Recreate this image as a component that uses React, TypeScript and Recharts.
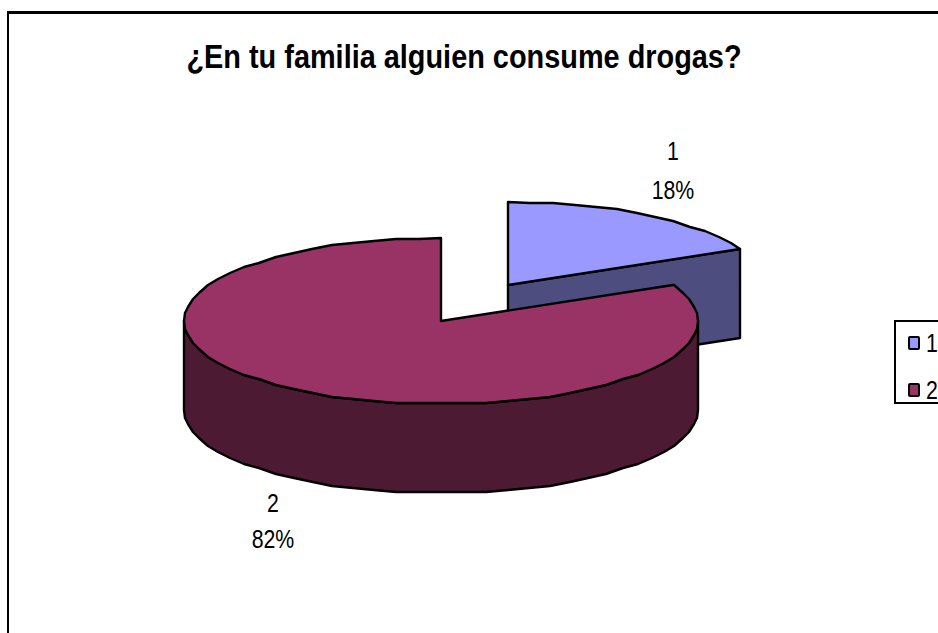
import { PieChart, Pie, Legend } from "recharts";

const categories = ["1", "2"];
const values = [17.9, 82.1];
const topColors = ["#9999FF", "#993366"];
const sideColors = ["#4D4D80", "#4D1A33"];

const data = categories.map((name, i) => ({ name, value: values[i], fill: topColors[i] }));

const font = "'Liberation Sans', Arial, sans-serif";
const CX = 441;
const CY = 321;
const RX = 257;
const SQUASH = 83 / 257;
const DEPTH = 89;
const TEXT_SQUEEZE = 0.82;
const ARC_STEP = 5;
// the first slice is pulled out of the pie like in the excel chart
const explode = [
  [67, -36],
  [0, 0],
];
// x, first baseline
const labelPos = [
  [673, 160],
  [273, 512],
];
const labelPos2 = [199, 548];

type Pt = [number, number];

function ellipsePoint(cx: number, cy: number, r: number, deg: number, snap: boolean): Pt {
  const a = (deg * Math.PI) / 180;
  const dy = r * SQUASH * Math.sin(a);
  return [Math.round(cx + r * Math.cos(a)), Math.round(cy - (snap ? Math.round(dy / 2) * 2 : dy))];
}

// excel draws the ellipse as a rough polyline. Sample at fixed angles so the top face and
// the wall share the same corners. from > to, the pie runs clockwise
function arcPoints(cx: number, cy: number, r: number, from: number, to: number): Pt[] {
  const pts: Pt[] = [ellipsePoint(cx, cy, r, from, false)];
  let deg = Math.floor(from / ARC_STEP) * ARC_STEP;
  if (deg === from) deg -= ARC_STEP;
  for (; deg > to; deg -= ARC_STEP) pts.push(ellipsePoint(cx, cy, r, deg, true));
  pts.push(ellipsePoint(cx, cy, r, to, false));
  return pts;
}

const toPath = (pts: Pt[]) => "M" + pts.map((p) => p.join(",")).join("L") + "Z";

function Slice3D(props: any) {
  const { cx, cy, outerRadius, startAngle, endAngle, index, fill } = props;
  const [ox, oy] = explode[index] ?? [0, 0];
  const x = cx + ox;
  const y = cy + oy;
  const side = sideColors[index];
  const rim = arcPoints(x, y, outerRadius, startAngle, endAngle);
  const top: Pt[] = [[Math.round(x), Math.round(y)], ...rim];
  const stroke = { stroke: "#000", strokeWidth: 2.4, strokeLinejoin: "round" as const };

  let wall: Pt[] = [];
  if (index === 0) {
    // cut face of the pulled out slice
    const end = rim[rim.length - 1];
    wall = [top[0], end, [end[0], end[1] + DEPTH], [top[0][0], top[0][1] + DEPTH]];
  } else {
    // front half of the rim
    const front = arcPoints(x, y, outerRadius, 0, -180);
    wall = [...front, ...[...front].reverse().map((p): Pt => [p[0], p[1] + DEPTH])];
  }
  return (
    <g>
      <path d={toPath(wall)} fill={side} {...stroke} />
      <path d={toPath(top)} fill={fill} {...stroke} />
    </g>
  );
}

function SliceLabel(props: any) {
  const { index, percent, name } = props;
  const [x, y] = labelPos[index];
  return (
    <g transform={`translate(${x} 0) scale(${TEXT_SQUEEZE} 1)`}>
      <text textAnchor="middle" fontFamily={font} fontSize={26} fill="#000">
        <tspan x={0} y={y}>{name}</tspan>
        <tspan x={0} y={labelPos2[index]}>{Math.round(percent * 100)}%</tspan>
      </text>
    </g>
  );
}

function LegendBox(props: any) {
  return (
    <div style={{ width: 60, height: 84, border: "2px solid #000", background: "#fff", boxSizing: "border-box", position: "relative" }}>
      {(props.payload ?? []).map((item: any, i: number) => (
        <div key={item.value} style={{ position: "absolute", left: 12, top: 9 + i * 47, display: "flex", alignItems: "center", height: 24, fontFamily: font, fontSize: 26, lineHeight: "24px", color: "#000" }}>
          <span style={{ width: 8, height: 10, background: item.color, border: "2px solid #000", borderRadius: 2, marginRight: 6 }} />
          <span style={{ display: "inline-block", transform: `scaleX(${TEXT_SQUEEZE})`, transformOrigin: "left center" }}>{item.value}</span>
        </div>
      ))}
    </div>
  );
}

export default function App() {
  return (
    <div style={{ position: "fixed", left: 0, top: 0, width: 938, height: 633, overflow: "hidden", background: "#fff" }}>
      <div style={{ position: "absolute", left: 7, top: 11, width: 1000, height: 800, borderLeft: "2px solid #000", borderTop: "3px solid #000", boxSizing: "border-box" }} />
      <div style={{ position: "absolute", left: 0, top: 38, width: 928, textAlign: "center", fontFamily: font, fontWeight: "bold", fontSize: 33, lineHeight: "38px", color: "#000", whiteSpace: "nowrap", transform: "scaleX(0.875)" }}>
        ¿En tu familia alguien consume drogas?
      </div>
      <div style={{ position: "absolute", left: 0, top: 0 }}>
        <PieChart width={938} height={633} margin={{ top: 0, right: 0, bottom: 0, left: 0 }}>
          <Pie
            data={data}
            dataKey="value"
            nameKey="name"
            cx={CX}
            cy={CY}
            outerRadius={RX}
            startAngle={90}
            endAngle={-270}
            stroke="none"
            isAnimationActive={false}
            shape={Slice3D}
            label={SliceLabel}
            labelLine={false}
          />
          <Legend content={LegendBox} wrapperStyle={{ left: 894, top: 320, width: 60, bottom: "auto" }} />
        </PieChart>
      </div>
    </div>
  );
}
